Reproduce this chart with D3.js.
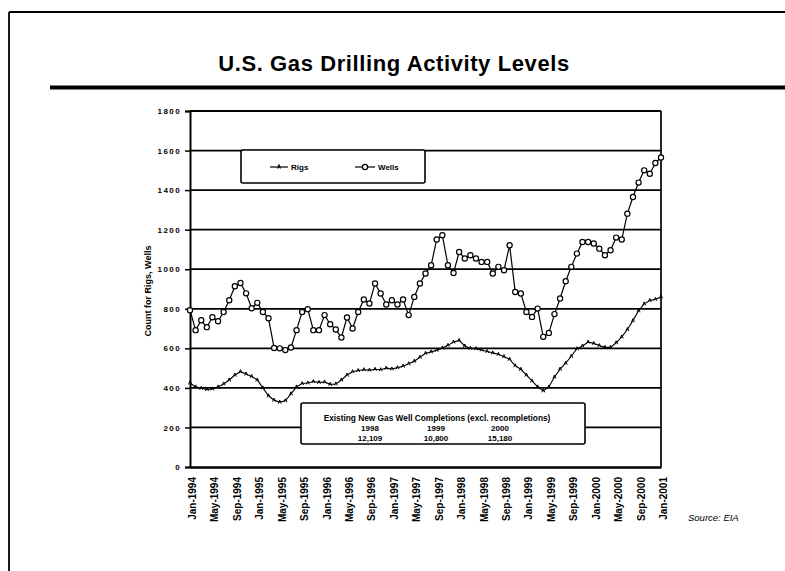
<!DOCTYPE html>
<html><head><meta charset="utf-8">
<script src="https://cdn.jsdelivr.net/npm/d3@7"></script>
<style>
body{margin:0;background:#fff}
text{font-family:"Liberation Sans",Arial,sans-serif;fill:#000}
</style>
</head><body>
<svg id="c" width="785" height="571"></svg>
<script>
// ---------- data ----------
const fmt = d3.timeFormat("%b-%Y");
const categories = d3.timeMonths(new Date(1994,0,1), new Date(2001,0,2)).map(fmt); // Jan-1994 .. Jan-2001 (85 months)
const tickLabels = ["Jan-1994","May-1994","Sep-1994","Jan-1995","May-1995","Sep-1995",
  "Jan-1996","May-1996","Sep-1996","Jan-1997","May-1997","Sep-1997",
  "Jan-1998","May-1998","Sep-1998","Jan-1999","May-1999","Sep-1999",
  "Jan-2000","May-2000","Sep-2000","Jan-2001"];
const yTicks = [0,200,400,600,800,1000,1200,1400,1600,1800];
const wells = [793,692,742,707,757,737,784,843,914,930,878,803,830,
  784,752,602,600,591,604,692,784,798,692,692,768,722,
  695,655,756,700,784,847,827,928,877,822,843,822,847,768,
  860,928,978,1020,1150,1172,1020,981,1087,1054,1071,1054,1037,
  1037,978,1012,995,1121,885,877,784,759,801,658,678,773,852,
  939,1012,1079,1138,1138,1130,1104,1071,1096,1160,1150,1281,1365,
  1438,1500,1483,1537,1565];
const rigs = [425,405,398,392,395,405,420,440,465,482,470,458,440,
  400,360,338,328,335,370,405,422,425,432,428,430,418,
  420,440,465,482,488,492,490,494,492,500,496,502,510,522,
  535,555,575,582,590,602,615,632,640,612,600,598,592,
  584,577,570,558,545,512,494,465,435,405,385,405,455,495,
  525,560,598,612,632,625,614,605,605,628,658,695,740,
  790,825,842,848,860];
const seriesNames = ["Rigs","Wells"];
const chartTitle = "U.S. Gas Drilling Activity Levels";
const yTitle = "Count for Rigs, Wells";
const noteTitle = "Existing New Gas Well Completions (excl. recompletions)";
const noteYears = ["1998","1999","2000"];
const noteValues = ["12,109","10,800","15,180"];
const sourceText = "Source: EIA";

// ---------- drawing ----------
const svg = d3.select("#c");
svg.append("rect").attr("width",785).attr("height",571).attr("fill","#fff");

// page frame
svg.append("line").attr("x1",9).attr("x2",785).attr("y1",12).attr("y2",12).attr("stroke","#000").attr("stroke-width",1.8);
svg.append("line").attr("x1",9).attr("x2",9).attr("y1",12).attr("y2",571).attr("stroke","#000").attr("stroke-width",1.8);
svg.append("line").attr("x1",50).attr("x2",785).attr("y1",87.5).attr("y2",87.5).attr("stroke","#000").attr("stroke-width",4);

svg.append("text").attr("x",394).attr("y",71).attr("text-anchor","middle")
  .style("font-size","22px").style("font-weight","bold").style("letter-spacing","0.6px").text(chartTitle);

const L = 190, R = 661, T = 111, B = 467;
const x = d3.scalePoint().domain(categories).range([L,R]);
const y = d3.scaleLinear().domain([0,1800]).range([B,T]);

// gridlines
svg.append("g").selectAll("line").data(yTicks.filter(d=>d>0)).join("line")
  .attr("x1",L).attr("x2",R).attr("y1",d=>y(d)).attr("y2",d=>y(d))
  .attr("stroke","#000").attr("stroke-width",1.8);
// right frame
svg.append("line").attr("x1",R).attr("x2",R).attr("y1",T).attr("y2",B).attr("stroke","#000").attr("stroke-width",1.7);

// y axis
const ya = svg.append("g").attr("transform",`translate(${L},0)`)
  .call(d3.axisLeft(y).tickValues(yTicks).tickFormat(d3.format("d")).tickSize(5).tickPadding(4));
ya.select(".domain").attr("stroke-width",2);
ya.selectAll(".tick line").attr("stroke-width",1.5);
ya.selectAll("text").style("font-size","8px").style("font-weight","bold")
  .style("letter-spacing","1.4px").style("font-family","'Liberation Sans',Arial,sans-serif");

// x axis
const xa = svg.append("g").attr("transform",`translate(0,${B})`)
  .call(d3.axisBottom(x).tickValues(tickLabels).tickSize(0));
xa.select(".domain").attr("stroke-width",2.5);
xa.selectAll("text").attr("transform","rotate(-90)").attr("x",-10).attr("y",2).attr("dy","0.35em")
  .attr("text-anchor","end").style("font-size","10px").style("font-weight","bold")
  .style("font-family","'Liberation Sans',Arial,sans-serif");

// y title
svg.append("text").attr("transform","translate(151,291) rotate(-90)").attr("text-anchor","middle")
  .style("font-size","9px").style("font-weight","bold").text(yTitle);

// series
const line = d3.line().x((d,i)=>x(categories[i])).y(d=>y(d));
svg.append("path").datum(rigs).attr("d",line).attr("fill","none").attr("stroke","#000").attr("stroke-width",1.1);
svg.append("g").selectAll("path").data(rigs).join("path")
  .attr("d",(d,i)=>`M${x(categories[i])-1.5},${y(d)+1.5}L${x(categories[i])},${y(d)-2}L${x(categories[i])+1.5},${y(d)+1.5}`)
  .attr("fill","none").attr("stroke","#000").attr("stroke-width",1);

svg.append("path").datum(wells).attr("d",line).attr("fill","none").attr("stroke","#000").attr("stroke-width",1.2);
svg.append("g").selectAll("circle").data(wells).join("circle")
  .attr("cx",(d,i)=>x(categories[i])).attr("cy",d=>y(d)).attr("r",2.6)
  .attr("fill","#fff").attr("stroke","#000").attr("stroke-width",1.2);

// legend
const lg = svg.append("g");
lg.append("rect").attr("x",241).attr("y",150).attr("width",184).attr("height",33).attr("rx",2)
  .attr("fill","#fff").attr("stroke","#000").attr("stroke-width",1.6);
lg.append("line").attr("x1",270).attr("x2",288).attr("y1",167).attr("y2",167).attr("stroke","#000").attr("stroke-width",1.2);
lg.append("path").attr("d","M277.5,168.5L279,165L280.5,168.5").attr("fill","none").attr("stroke","#000").attr("stroke-width",1.2);
lg.append("text").attr("x",291).attr("y",170).style("font-size","8px").style("font-weight","bold").text(seriesNames[0]);
lg.append("line").attr("x1",355).attr("x2",375).attr("y1",167).attr("y2",167).attr("stroke","#000").attr("stroke-width",1.2);
lg.append("circle").attr("cx",365).attr("cy",167).attr("r",2.6).attr("fill","#fff").attr("stroke","#000").attr("stroke-width",1.2);
lg.append("text").attr("x",378).attr("y",170).style("font-size","8px").style("font-weight","bold").text(seriesNames[1]);

// note box
const nb = svg.append("g");
nb.append("rect").attr("x",301).attr("y",403).attr("width",284).attr("height",41).attr("rx",2)
  .attr("fill","#fff").attr("stroke","#000").attr("stroke-width",1.6);
nb.append("text").attr("x",437).attr("y",421).attr("text-anchor","middle")
  .style("font-size","8.3px").style("font-weight","bold").text(noteTitle);
const colX = [370,436,500];
nb.selectAll(".yr").data(noteYears).join("text").attr("class","yr")
  .attr("x",(d,i)=>colX[i]).attr("y",431).attr("text-anchor","middle")
  .style("font-size","8px").style("font-weight","bold").text(d=>d);
nb.selectAll(".vl").data(noteValues).join("text").attr("class","vl")
  .attr("x",(d,i)=>colX[i]).attr("y",441).attr("text-anchor","middle")
  .style("font-size","8px").style("font-weight","bold").text(d=>d);

// source
svg.append("text").attr("x",688).attr("y",521).style("font-size","9.5px").style("font-style","italic").text(sourceText);
</script>
</body></html>
